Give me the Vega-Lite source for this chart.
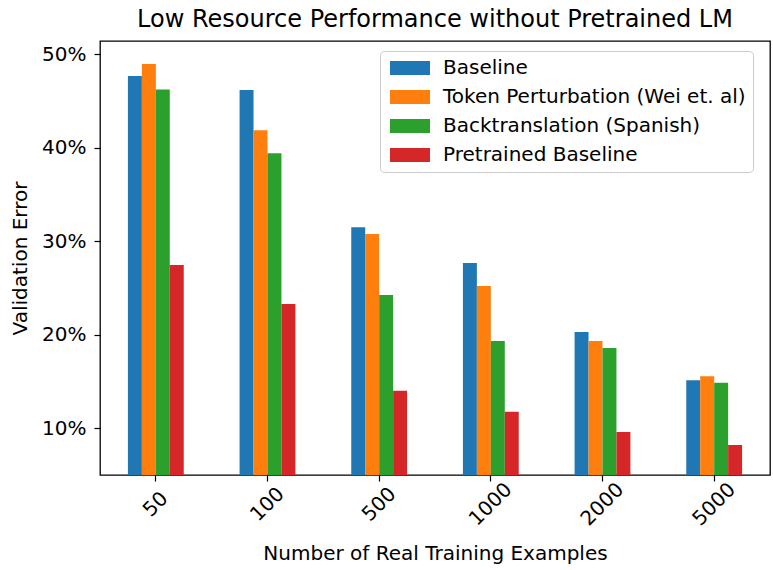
{
  "$schema": "https://vega.github.io/schema/vega-lite/v6.json",
  "width": 670,
  "height": 434,
  "autosize": {"type": "none"},
  "padding": {"left": 100, "top": 41, "right": 3, "bottom": 95},
  "title": {
    "text": "Low Resource Performance without Pretrained LM",
    "font": "DejaVu Sans",
    "fontSize": 24,
    "fontWeight": "normal",
    "color": "black",
    "offset": 9
  },
  "config": {
    "font": "DejaVu Sans",
    "view": {"stroke": "black", "strokeWidth": 1.3},
    "axis": {
      "labelFont": "DejaVu Sans",
      "titleFont": "DejaVu Sans",
      "labelFontSize": 20,
      "titleFontSize": 20,
      "titleFontWeight": "normal",
      "labelColor": "black",
      "titleColor": "black",
      "tickColor": "black",
      "tickSize": 6,
      "tickWidth": 1.2,
      "domain": false,
      "grid": false
    }
  },
  "data": {
    "values": [
      {"examples": "50", "method": "Baseline", "error": 47.65},
      {"examples": "50", "method": "Token Perturbation (Wei et. al)", "error": 48.93},
      {"examples": "50", "method": "Backtranslation (Spanish)", "error": 46.22},
      {"examples": "50", "method": "Pretrained Baseline", "error": 27.45},
      {"examples": "100", "method": "Baseline", "error": 46.15},
      {"examples": "100", "method": "Token Perturbation (Wei et. al)", "error": 41.87},
      {"examples": "100", "method": "Backtranslation (Spanish)", "error": 39.4},
      {"examples": "100", "method": "Pretrained Baseline", "error": 23.28},
      {"examples": "500", "method": "Baseline", "error": 31.48},
      {"examples": "500", "method": "Token Perturbation (Wei et. al)", "error": 30.77},
      {"examples": "500", "method": "Backtranslation (Spanish)", "error": 24.24},
      {"examples": "500", "method": "Pretrained Baseline", "error": 14.0},
      {"examples": "1000", "method": "Baseline", "error": 27.67},
      {"examples": "1000", "method": "Token Perturbation (Wei et. al)", "error": 25.21},
      {"examples": "1000", "method": "Backtranslation (Spanish)", "error": 19.32},
      {"examples": "1000", "method": "Pretrained Baseline", "error": 11.76},
      {"examples": "2000", "method": "Baseline", "error": 20.28},
      {"examples": "2000", "method": "Token Perturbation (Wei et. al)", "error": 19.32},
      {"examples": "2000", "method": "Backtranslation (Spanish)", "error": 18.57},
      {"examples": "2000", "method": "Pretrained Baseline", "error": 9.61},
      {"examples": "5000", "method": "Baseline", "error": 15.14},
      {"examples": "5000", "method": "Token Perturbation (Wei et. al)", "error": 15.57},
      {"examples": "5000", "method": "Backtranslation (Spanish)", "error": 14.86},
      {"examples": "5000", "method": "Pretrained Baseline", "error": 8.22}
    ]
  },
  "mark": {"type": "bar", "clip": true},
  "encoding": {
    "x": {
      "field": "examples",
      "type": "nominal",
      "sort": ["50", "100", "500", "1000", "2000", "5000"],
      "scale": {"paddingInner": 0.5, "paddingOuter": 0.25},
      "axis": {
        "title": "Number of Real Training Examples",
        "labelAngle": -45,
        "labelAlign": "center",
        "labelBaseline": "middle",
        "labelPadding": 23,
        "titlePadding": 14
      }
    },
    "xOffset": {
      "field": "method",
      "type": "nominal",
      "sort": ["Baseline", "Token Perturbation (Wei et. al)", "Backtranslation (Spanish)", "Pretrained Baseline"],
      "scale": {"paddingInner": 0, "paddingOuter": 0}
    },
    "y": {
      "field": "error",
      "type": "quantitative",
      "scale": {"domain": [5, 51.4], "nice": false, "zero": false},
      "axis": {
        "title": "Validation Error",
        "values": [10, 20, 30, 40, 50],
        "labelExpr": "datum.value + '%'",
        "labelPadding": 8,
        "titlePadding": 11
      }
    },
    "color": {
      "field": "method",
      "type": "nominal",
      "sort": ["Baseline", "Token Perturbation (Wei et. al)", "Backtranslation (Spanish)", "Pretrained Baseline"],
      "scale": {"range": ["#1f77b4", "#ff7f0e", "#2ca02c", "#d62728"]},
      "legend": {
        "title": null,
        "orient": "none",
        "legendX": 280,
        "legendY": 10,
        "symbolType": "M-1,-1H4.714V1H-1Z",
        "symbolSize": 196,
        "symbolStrokeWidth": 0,
        "symbolOpacity": 1,
        "labelFont": "DejaVu Sans",
        "labelFontSize": 20,
        "labelColor": "black",
        "labelOffset": 36,
        "labelLimit": 400,
        "rowPadding": 9,
        "padding": 7,
        "fillColor": "rgba(255,255,255,0.8)",
        "strokeColor": "#cccccc",
        "cornerRadius": 4
      }
    }
  }
}
